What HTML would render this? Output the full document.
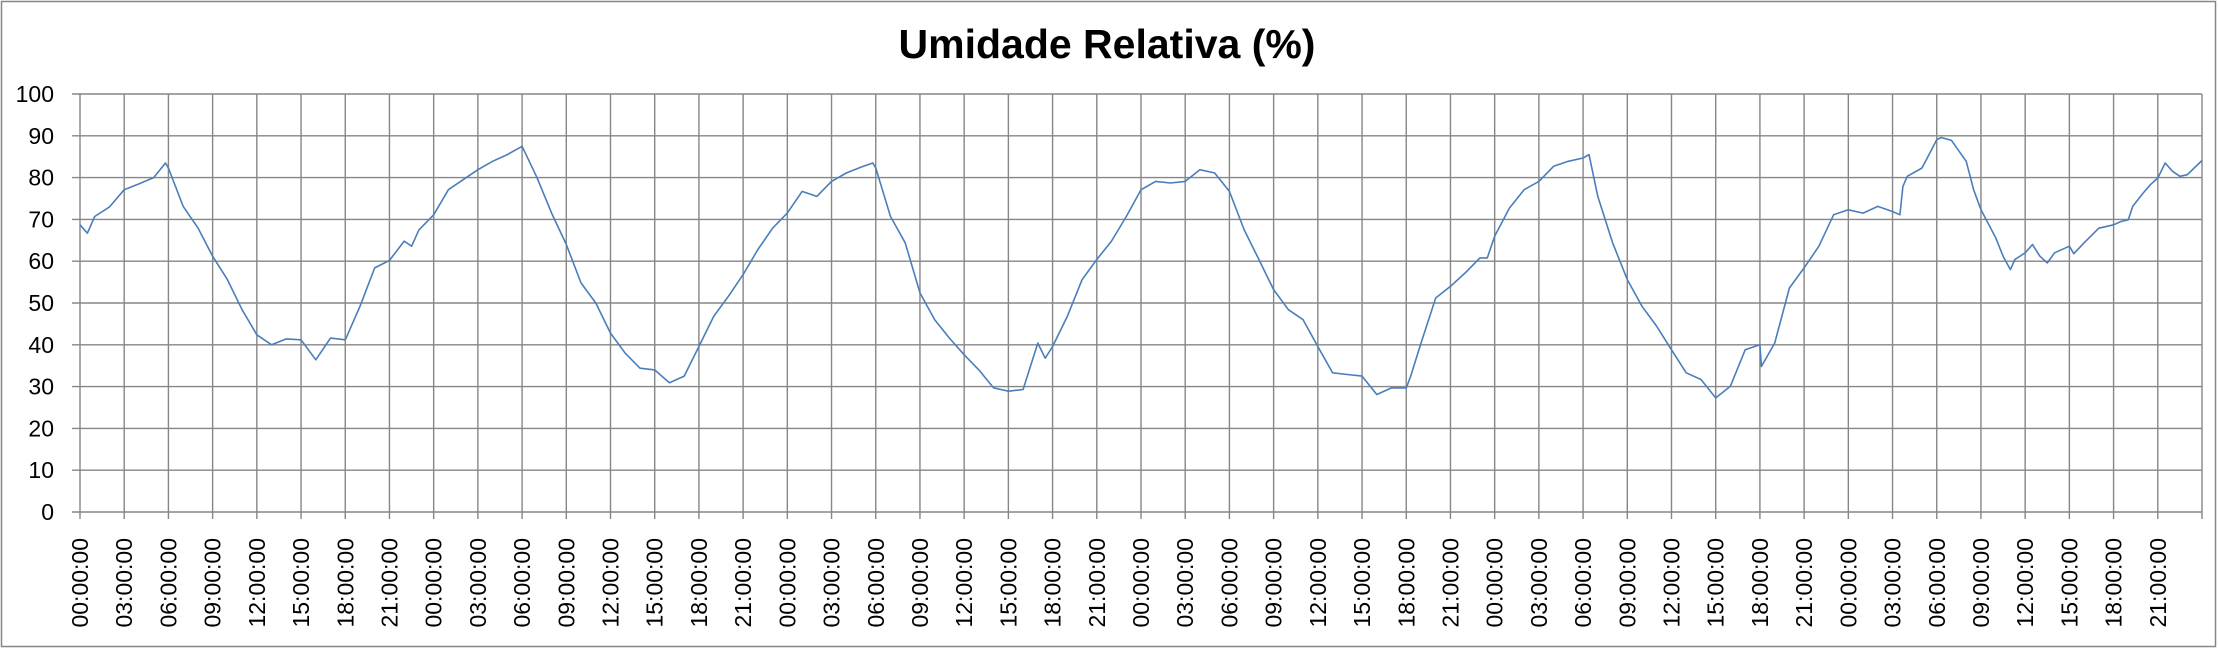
<!DOCTYPE html>
<html><head><meta charset="utf-8"><style>
html,body{margin:0;padding:0;background:#fff;}
svg{display:block;font-family:"Liberation Sans",sans-serif;}
</style></head><body>
<svg id="chart" width="2218" height="649" viewBox="0 0 2218 649">
<rect x="1.5" y="1.5" width="2214" height="645" fill="#fff" stroke="#868686" stroke-width="1.5"/>
<text x="1107" y="58" text-anchor="middle" font-size="41" font-weight="bold" fill="#000">Umidade Relativa (%)</text>
<g id="grid"></g>
<g id="yaxis"></g>
<g id="xaxis"></g>
<g id="series"></g>
</svg>
<script>
const yTicks = [0,10,20,30,40,50,60,70,80,90,100];
const xTickLabels = ["00:00:00","03:00:00","06:00:00","09:00:00","12:00:00","15:00:00","18:00:00","21:00:00"];
const hours = [0,0.5,1,2,3,4,5,5.8,6,7,8,9,10,11,12,13,14,15,16,17,18,19,20,21,22,22.5,23,
24,25,26,27,28,29,30,31,32,33,34,35,36,37,38,39,40,41,42,43,44,45,46,47,
48,49,50,51,52,53,53.8,54,55,56,57,58,59,60,61,62,63,64,65,65.5,66,67,68,69,70,71,
72,73,74,75,76,77,78,79,80,81,82,83,84,85,86,87,88,89,90,90.3,91,92,93,94,95,95.5,
96,97,98,99,100,101,102,102.4,103,104,105,106,107,108,109,110,111,112,113,114,114.1,115,116,117,118,119,
120,121,122,123,123.5,123.7,124,125,126,126.3,127,128,128.5,129,130,130.5,131,131.3,132,132.5,133,133.5,134,135,135.3,136,137,138,138.5,139,139.3,140,140.5,141,141.5,142,142.5,143,144];
const humidity = [68.7,66.7,70.7,73,77.1,78.5,80,83.5,82.3,73.1,68,61.2,55.6,48.4,42.4,40,41.4,41.2,36.4,41.6,41.2,49.2,58.4,60.2,64.8,63.6,67.5,
71.1,77.1,79.5,81.9,83.9,85.5,87.5,80.1,71.5,64,54.8,50,42.8,38,34.4,34,30.9,32.5,39.6,46.8,51.6,56.8,62.8,67.9,
71.5,76.7,75.5,79.1,81.1,82.5,83.5,82.3,70.7,64.4,52.4,46,41.6,37.6,34,29.7,28.9,29.3,40.4,36.8,39.6,46.8,55.6,60.4,64.8,70.7,
77.1,79.1,78.7,79.1,81.9,81.1,76.7,67.5,60.4,53.2,48.4,46,39.6,33.3,32.9,32.5,28.1,29.7,29.7,32.5,40.4,51.2,54,57.2,60.8,60.8,
66,72.7,77.1,79.1,82.7,83.9,84.7,85.5,75.5,64.4,55.6,49.2,44.4,38.8,33.3,31.7,27.3,30.1,38.8,40,34.8,40.4,53.6,58.4,63.6,71.1,
72.3,71.5,73.1,71.9,71.1,77.9,80.3,82.3,89.1,89.6,88.9,83.9,77.1,72.3,65.6,61.2,58,60.4,62,64,61.2,59.6,62,63.6,61.8,64.4,67.9,68.7,69.5,69.9,73.1,76.3,78.3,79.9,83.5,81.5,80.3,80.7,84.1];

const NS="http://www.w3.org/2000/svg";
const X0=80, X1=2202, Y0=512, Y1=94, HMAX=144;
function xs(h){return X0+(X1-X0)*h/HMAX;}
function ys(v){return Y0-(Y0-Y1)*v/100;}
const grid=document.getElementById('grid'), ya=document.getElementById('yaxis'), xa=document.getElementById('xaxis'), se=document.getElementById('series');
function mk(tag,attrs,parent){const e=document.createElementNS(NS,tag);for(const k in attrs)e.setAttribute(k,attrs[k]);parent.appendChild(e);return e;}
yTicks.forEach(v=>{
  const l=mk('line',{x1:72,x2:X1,y1:ys(v),y2:ys(v),stroke:'#868686','stroke-width':1.4},grid);
  
  
  const t=mk('text',{x:54,y:ys(v)+8,'text-anchor':'end','font-size':23,fill:'#000'},ya);
  t.textContent=String(v);
  
  
});
for(let i=0;i<=HMAX/3;i++){
  const h=i*3, x=xs(h);
  const l=mk('line',{x1:x,x2:x,y1:Y1,y2:Y0+7,stroke:'#868686','stroke-width':1.4},grid);
  
  
  if(i<HMAX/3){
    const t=mk('text',{transform:'translate('+(x+8)+',538) rotate(-90)','text-anchor':'end','font-size':23,fill:'#000'},xa);
    t.textContent=xTickLabels[i%8];
    
    
  }
}
const pts=hours.map((h,i)=>xs(h).toFixed(1)+','+ys(humidity[i]).toFixed(1)).join(' ');
const pl=mk('polyline',{points:pts,fill:'none',stroke:'#4a7ebb','stroke-width':1.6,'stroke-linejoin':'round'},se);


</script>
</body></html>
